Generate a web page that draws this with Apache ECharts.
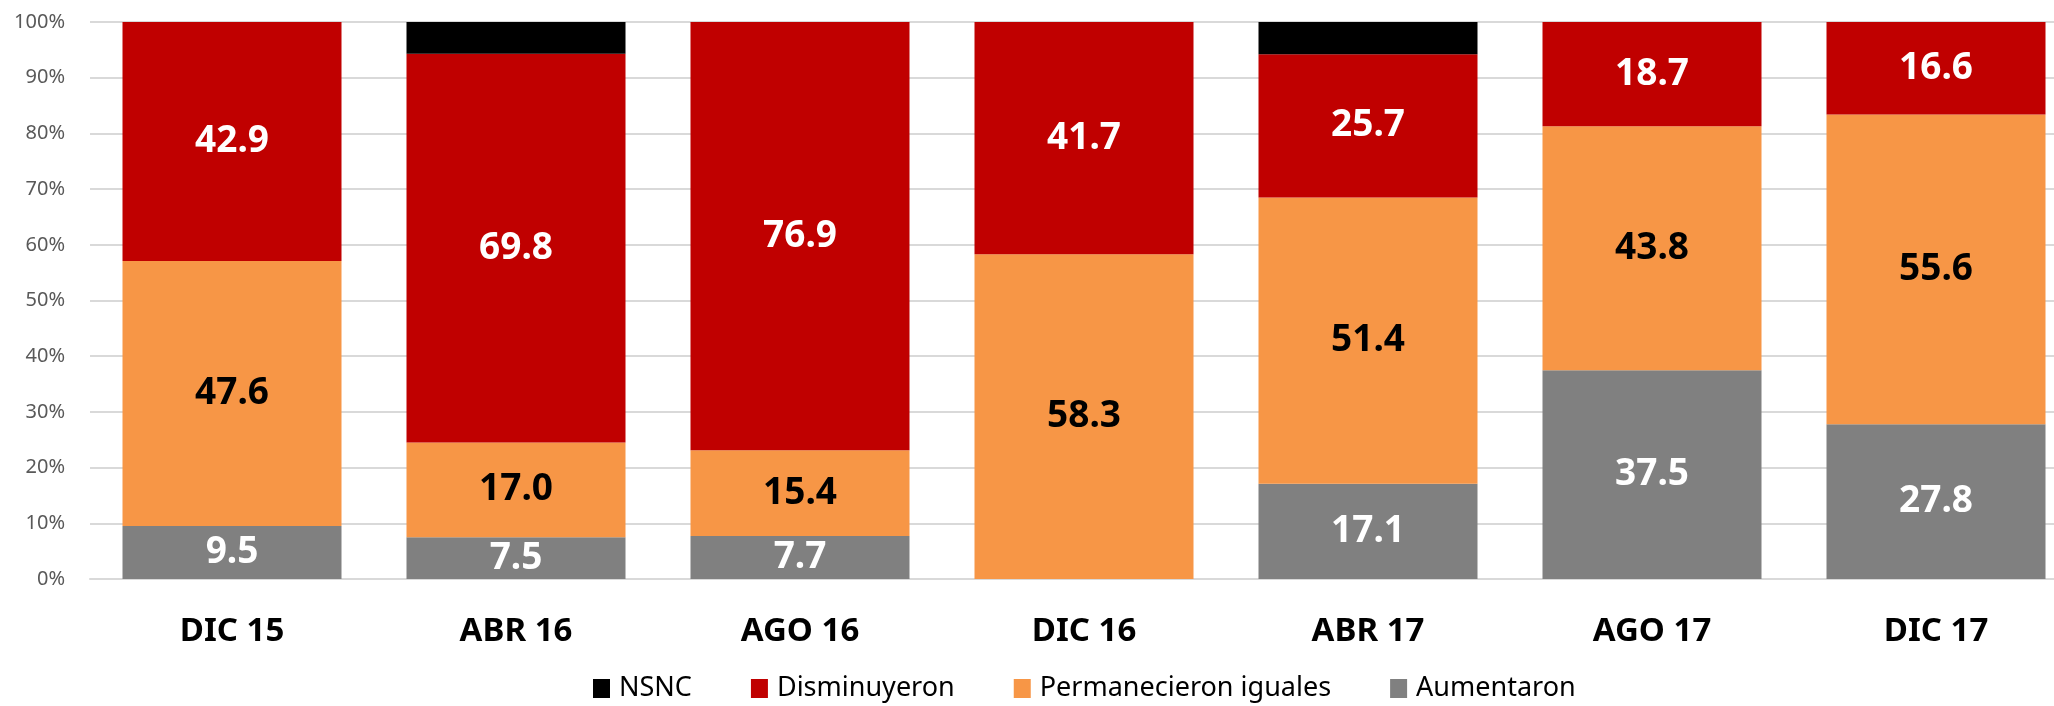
<!DOCTYPE html>
<html>
<head>
<meta charset="utf-8">
<script src="https://cdn.jsdelivr.net/npm/echarts@6/dist/echarts.min.js"></script>
<style>
  html, body { margin: 0; padding: 0; background: #fff; overflow: hidden; }
  /* el área de trazado del original sigue más allá del borde derecho */
  #chart { width: 2078px; height: 706px; }
</style>
</head>
<body>
<div id="chart"></div>
<script>
// periodos
const categories = ['DIC 15', 'ABR 16', 'AGO 16', 'DIC 16', 'ABR 17', 'AGO 17', 'DIC 17']
// valores por serie (%)
const aumentaron = [9.5, 7.5, 7.7, 0, 17.1, 37.5, 27.8]
const permanecieron = [47.6, 17.0, 15.4, 58.3, 51.4, 43.8, 55.6]
const disminuyeron = [42.9, 69.8, 76.9, 41.7, 25.7, 18.7, 16.6]
const nsnc = [0, 5.7, 0, 0, 5.8, 0, 0]
const yTicks = [0, 100, 10] // min, max, intervalo

const font = 'Noto Sans'

const labelOf = (color) => ({
    show: true,
    position: 'inside',
    color: color,
    fontFamily: font,
    fontWeight: 'bold',
    fontSize: 37,
    formatter: (p) => (p.value ? p.value.toFixed(1) : '')
})

const myChart = echarts.init(document.getElementById('chart'))
myChart.setOption({
    animation: false,
    grid: {
        left: 90,
        right: 0,
        top: 22,
        bottom: 127
    },
    legend: {
        data: ['NSNC', 'Disminuyeron', 'Permanecieron iguales', 'Aumentaron'],
        left: 588,
        top: 670,
        itemWidth: 17,
        itemHeight: 19,
        itemGap: 59,
        icon: 'rect',
        textStyle: {
            fontFamily: font,
            fontSize: 27,
            color: '#000',
            padding: [0, 0, 0, 4]
        }
    },
    xAxis: {
        type: 'category',
        data: categories,
        axisTick: { show: false },
        axisLine: { lineStyle: { color: '#d9d9d9', width: 2 } },
        axisLabel: {
            margin: 36,
            color: '#000',
            fontFamily: font,
            fontWeight: 'bold',
            fontSize: 33
        }
    },
    yAxis: {
        type: 'value',
        min: yTicks[0],
        max: yTicks[1],
        interval: yTicks[2],
        axisLine: { show: false },
        axisTick: { show: false },
        axisLabel: {
            formatter: '{value}%',
            margin: 25,
            color: '#595959',
            fontFamily: font,
            fontSize: 20
        },
        splitLine: { lineStyle: { color: '#d9d9d9', width: 2 } }
    },
    series: [
        {
            name: 'Aumentaron',
            type: 'bar',
            stack: 'total',
            barWidth: 219,
            data: aumentaron,
            itemStyle: { color: '#808080' },
            label: labelOf('#fff')
        },
        {
            name: 'Permanecieron iguales',
            type: 'bar',
            stack: 'total',
            data: permanecieron,
            itemStyle: { color: '#f79646' },
            label: labelOf('#000')
        },
        {
            name: 'Disminuyeron',
            type: 'bar',
            stack: 'total',
            data: disminuyeron,
            itemStyle: { color: '#c00000' },
            label: labelOf('#fff')
        },
        {
            name: 'NSNC',
            type: 'bar',
            stack: 'total',
            data: nsnc,
            itemStyle: { color: '#000' }
        }
    ]
})
</script>
</body>
</html>
